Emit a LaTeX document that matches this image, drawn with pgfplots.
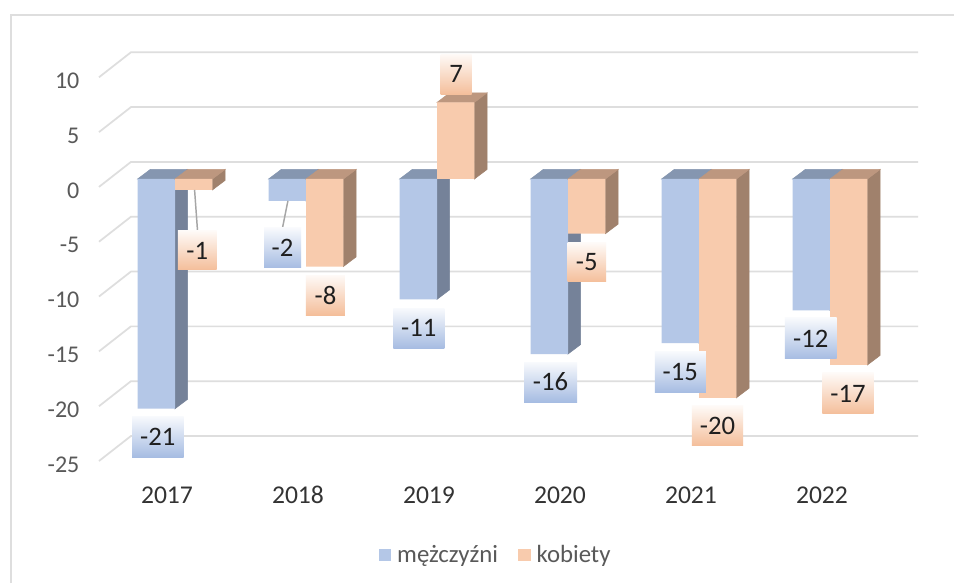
\documentclass[border=0pt]{standalone}
\usepackage{pgfplots}
\pgfplotsset{compat=1.18}
\usepackage{fontspec}
\setmainfont{Carlito}
\definecolor{gridc}{HTML}{DEDEDE}
\definecolor{ticktxt}{HTML}{595959}
\definecolor{cattxt}{HTML}{333333}
\definecolor{bluef}{HTML}{B4C7E7}
\definecolor{blues}{HTML}{758299}
\definecolor{bluet}{HTML}{8596B0}
\definecolor{orangef}{HTML}{F8CBAD}
\definecolor{oranges}{HTML}{A0816C}
\definecolor{oranget}{HTML}{BD977F}
\definecolor{bluel}{HTML}{A6BCE2}
\definecolor{orangel}{HTML}{F4BE9A}
% data label: colour, series bar centre (axis units), value, offset px, size px, text
\newcommand{\dlab}[8]{%
  \node[shade,top color=#1!8!white,bottom color=#1,inner sep=0pt,minimum width=#6*0.75pt,minimum height=#7*0.75pt,
    text=black!88,font=\fontsize{20}{22}\selectfont,xshift=#4*0.75pt,yshift=-#5*0.75pt] at (axis cs:#2,#3) {#8};}
\begin{document}
\begin{tikzpicture}[x=1pt,y=1pt]
\path[use as bounding box,fill=white] (0,0) rectangle (715.5,437.25);
% chart frame
\draw[gridc,line width=1.5pt] (7.9,0) -- (7.9,426.1) -- (715.5,426.1);
% walls and axis labels
\begin{axis}[
  at={(74.25pt,91.5pt)},anchor=south west,
  scale only axis,width=614.25pt,height=287.8pt,
  xmin=-0.519,xmax=5.733,ymin=-25,ymax=10,
  axis line style={draw=none},tick style={draw=none},clip=false,
  xtick={0,1,2,3,4,5},xticklabels={2017,2018,2019,2020,2021,2022},
  ytick={-25,-20,-15,-10,-5,0,5,10},
  yticklabels={{-25},{-20},{-15},{-10},{-5},{0},{5},{10}},
  x tick label style={font=\fontsize{19.2}{21}\selectfont,text=cattxt,yshift=-15pt,text height=13pt,text depth=0pt},
  y tick label style={font=\fontsize{18}{20}\selectfont,text=ticktxt,xshift=-11.2pt,yshift=-2.6pt},
]
\addplot[draw=gridc,line width=1.3pt] coordinates {(-0.519,10)(-0.275,12.28)(5.733,12.28)};
\addplot[draw=gridc,line width=1.3pt] coordinates {(-0.519,5)(-0.275,7.28)(5.733,7.28)};
\addplot[draw=gridc,line width=1.3pt] coordinates {(-0.519,0)(-0.275,2.28)(5.733,2.28)};
\addplot[draw=gridc,line width=1.3pt] coordinates {(-0.519,-5)(-0.275,-2.72)(5.733,-2.72)};
\addplot[draw=gridc,line width=1.3pt] coordinates {(-0.519,-10)(-0.275,-7.72)(5.733,-7.72)};
\addplot[draw=gridc,line width=1.3pt] coordinates {(-0.519,-15)(-0.275,-12.72)(5.733,-12.72)};
\addplot[draw=gridc,line width=1.3pt] coordinates {(-0.519,-20)(-0.275,-17.72)(5.733,-17.72)};
\addplot[draw=gridc,line width=1.3pt] coordinates {(-0.519,-25)(-0.275,-22.72)(5.733,-22.72)};
\end{axis}
% bars
\begin{axis}[
  at={(0pt,0pt)},anchor=south west,
  scale only axis,width=715.5pt,height=437.25pt,
  xmin=-1.33588,xmax=5.94656,ymin=-36.929,ymax=16.362,
  hide axis,clip=false,
  legend style={at={(axis cs:1.555,-34.34)},anchor=west,draw=none,fill=none,
    font=\fontsize{18.6}{21}\selectfont,text=ticktxt,legend columns=2,
    inner sep=0pt,outer sep=0pt,
    /tikz/every odd column/.append style={column sep=2.5pt},
    /tikz/every even column/.append style={column sep=13pt}},
  legend cell align=left,
  legend image code/.code={\fill[#1] (0pt,-4.6pt) rectangle (9.4pt,4.6pt);},
]
% mężczyźni: sides and tops
\addplot[blues,fill=blues,forget plot] coordinates {(0,0)(0.097,0.877)(0.097,-20.123)(0,-21)} --cycle;
\addplot[blues,fill=blues,forget plot] coordinates {(1,0)(1.097,0.877)(1.097,-1.123)(1,-2)} --cycle;
\addplot[blues,fill=blues,forget plot] coordinates {(2,0)(2.097,0.877)(2.097,-10.123)(2,-11)} --cycle;
\addplot[blues,fill=blues,forget plot] coordinates {(3,0)(3.097,0.877)(3.097,-15.123)(3,-16)} --cycle;
\addplot[blues,fill=blues,forget plot] coordinates {(4,0)(4.097,0.877)(4.097,-14.123)(4,-15)} --cycle;
\addplot[blues,fill=blues,forget plot] coordinates {(5,0)(5.097,0.877)(5.097,-11.123)(5,-12)} --cycle;
\addplot[bluet,fill=bluet,forget plot] coordinates {(-0.2855,0)(-0.1885,0.877)(0.097,0.877)(0,0)} --cycle;
\addplot[bluet,fill=bluet,forget plot] coordinates {(0.7145,0)(0.8115,0.877)(1.097,0.877)(1,0)} --cycle;
\addplot[bluet,fill=bluet,forget plot] coordinates {(1.7145,0)(1.8115,0.877)(2.097,0.877)(2,0)} --cycle;
\addplot[bluet,fill=bluet,forget plot] coordinates {(2.7145,0)(2.8115,0.877)(3.097,0.877)(3,0)} --cycle;
\addplot[bluet,fill=bluet,forget plot] coordinates {(3.7145,0)(3.8115,0.877)(4.097,0.877)(4,0)} --cycle;
\addplot[bluet,fill=bluet,forget plot] coordinates {(4.7145,0)(4.8115,0.877)(5.097,0.877)(5,0)} --cycle;
% mężczyźni: fronts
\addplot[ybar,bar width=28.05pt,bar shift=-14.025pt,fill=bluef,draw=none]
  coordinates {(0,-21)(1,-2)(2,-11)(3,-16)(4,-15)(5,-12)};
\addlegendentry{mężczyźni}
% kobiety: sides and tops
\addplot[oranges,fill=oranges,forget plot] coordinates {(0.2855,0)(0.3825,0.877)(0.3825,-0.123)(0.2855,-1)} --cycle;
\addplot[oranges,fill=oranges,forget plot] coordinates {(1.2855,0)(1.3825,0.877)(1.3825,-7.123)(1.2855,-8)} --cycle;
\addplot[oranges,fill=oranges,forget plot] coordinates {(2.2855,0)(2.3825,0.877)(2.3825,7.877)(2.2855,7)} --cycle;
\addplot[oranges,fill=oranges,forget plot] coordinates {(3.2855,0)(3.3825,0.877)(3.3825,-4.123)(3.2855,-5)} --cycle;
\addplot[oranges,fill=oranges,forget plot] coordinates {(4.2855,0)(4.3825,0.877)(4.3825,-19.123)(4.2855,-20)} --cycle;
\addplot[oranges,fill=oranges,forget plot] coordinates {(5.2855,0)(5.3825,0.877)(5.3825,-16.123)(5.2855,-17)} --cycle;
\addplot[oranget,fill=oranget,forget plot] coordinates {(0,0)(0.097,0.877)(0.3825,0.877)(0.2855,0)} --cycle;
\addplot[oranget,fill=oranget,forget plot] coordinates {(1,0)(1.097,0.877)(1.3825,0.877)(1.2855,0)} --cycle;
\addplot[oranget,fill=oranget,forget plot] coordinates {(2,7)(2.097,7.877)(2.3825,7.877)(2.2855,7)} --cycle;
\addplot[oranget,fill=oranget,forget plot] coordinates {(3,0)(3.097,0.877)(3.3825,0.877)(3.2855,0)} --cycle;
\addplot[oranget,fill=oranget,forget plot] coordinates {(4,0)(4.097,0.877)(4.3825,0.877)(4.2855,0)} --cycle;
\addplot[oranget,fill=oranget,forget plot] coordinates {(5,0)(5.097,0.877)(5.3825,0.877)(5.2855,0)} --cycle;
% kobiety: fronts
\addplot[ybar,bar width=28.05pt,bar shift=14.025pt,fill=orangef,draw=none]
  coordinates {(0,-1)(1,-8)(2,7)(3,-5)(4,-20)(5,-17)};
\addlegendentry{kobiety}
% leader lines
\addplot[black!35,line width=1.1pt,forget plot] coordinates {(0.1495,-1)(0.172,-4.75)};
\addplot[black!35,line width=1.1pt,forget plot] coordinates {(0.862,-2)(0.82,-4.5)};
% data labels
\dlab{bluel}{-0.1427}{-21}{1.5}{28}{51.5}{41}{-21}
\dlab{orangel}{0.1427}{-1}{3.6}{60.5}{38.7}{39}{-1}
\dlab{bluel}{0.8573}{-2}{-4.8}{47}{37}{40}{-2}
\dlab{orangel}{1.1427}{-8}{0.8}{28.5}{39}{40}{-8}
\dlab{bluel}{1.8573}{-11}{0.5}{28.9}{51}{40}{-11}
\dlab{orangel}{2.1427}{7}{0.5}{-28.1}{31}{40.6}{7}
\dlab{bluel}{2.8573}{-16}{1.2}{28}{53}{40}{-16}
\dlab{orangel}{3.1427}{-5}{0.1}{28.8}{38.5}{39}{-5}
\dlab{bluel}{3.8573}{-15}{0}{29}{51}{40.6}{-15}
\dlab{orangel}{4.1427}{-20}{-0.2}{28}{51}{40}{-20}
\dlab{bluel}{4.8573}{-12}{-0.5}{28.2}{51.7}{41}{-12}
\dlab{orangel}{5.1427}{-17}{-0.7}{28.5}{51.4}{41}{-17}
\end{axis}
\end{tikzpicture}
\end{document}
